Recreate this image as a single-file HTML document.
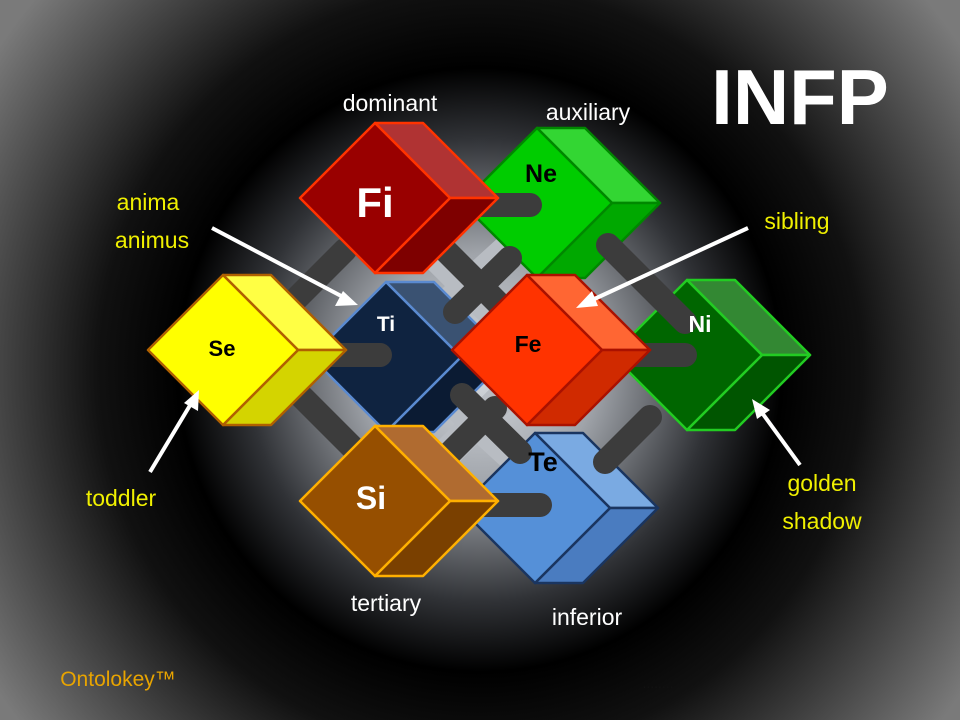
<!DOCTYPE html>
<html><head><meta charset="utf-8"><style>
html,body{margin:0;padding:0}
body{width:960px;height:720px;overflow:hidden;background:#000;font-family:"Liberation Sans",sans-serif}
svg{position:absolute;left:0;top:0}
</style></head><body>
<svg id="s" width="960" height="720" xmlns="http://www.w3.org/2000/svg">
<defs><radialGradient id="bg" cx="480" cy="370" r="580" gradientUnits="userSpaceOnUse">
<stop offset="0" stop-color="#d6dadf"/><stop offset="0.2" stop-color="#a0a4aa"/><stop offset="0.4" stop-color="#303236"/><stop offset="0.52" stop-color="#000"/><stop offset="0.66" stop-color="#111"/><stop offset="1" stop-color="#7a7a7a"/></radialGradient></defs>
<rect width="960" height="720" fill="url(#bg)"/>
<g stroke="#b8bcc2" stroke-width="30" fill="none">
<line x1="420" y1="240" x2="540" y2="360"/><line x1="440" y1="390" x2="560" y2="500"/>
<line x1="430" y1="470" x2="560" y2="340"/><line x1="430" y1="320" x2="540" y2="220"/>
</g>
<g id="back"></g>
<g stroke="#3c3c3c" stroke-width="24" stroke-linecap="round" fill="none">
<line x1="295" y1="300" x2="345" y2="250"/>
<line x1="455" y1="312" x2="510" y2="258"/>
<line x1="440" y1="245" x2="515" y2="320"/>
<line x1="608" y1="245" x2="685" y2="322"/>
<line x1="290" y1="385" x2="360" y2="455"/>
<line x1="462" y1="395" x2="520" y2="452"/>
<line x1="435" y1="468" x2="495" y2="408"/>
<line x1="605" y1="462" x2="650" y2="417"/>
<line x1="450" y1="205" x2="530" y2="205"/>
<line x1="300" y1="355" x2="380" y2="355"/>
<line x1="600" y1="355" x2="685" y2="355"/>
<line x1="450" y1="505" x2="540" y2="505"/>
</g>
<g id="front"></g>
<g font-family="Liberation Sans,sans-serif" font-weight="bold" text-anchor="middle">
<text x="375" y="217" font-size="42" fill="#fff">Fi</text>
<text x="541" y="182" font-size="25" fill="#000">Ne</text>
<text x="222" y="356" font-size="22" fill="#000">Se</text>
<text x="386" y="331" font-size="21" fill="#fff">Ti</text>
<text x="528" y="352" font-size="23" fill="#000">Fe</text>
<text x="700" y="332" font-size="23" fill="#fff">Ni</text>
<text x="371" y="509" font-size="32" fill="#fff">Si</text>
<text x="543" y="471" font-size="27" fill="#000">Te</text>
<text x="800" y="124" font-size="78" fill="#fff">INFP</text>
</g>
<g font-family="Liberation Sans,sans-serif" font-size="23" text-anchor="middle">
<text x="390" y="111" fill="#fff">dominant</text>
<text x="588" y="120" fill="#fff">auxiliary</text>
<text x="386" y="611" fill="#fff">tertiary</text>
<text x="587" y="625" fill="#fff">inferior</text>
<g fill="#f0f000">
<text x="148" y="210">anima</text><text x="152" y="248">animus</text>
<text x="797" y="229">sibling</text>
<text x="121" y="506">toddler</text>
<text x="822" y="491">golden</text><text x="822" y="529">shadow</text>
</g>
<text x="118" y="686" fill="#e8a400" font-size="21">Ontolokey™</text>
<text x="658" y="688" fill="#111" font-size="14">........</text>
</g>
<g stroke="#fff" stroke-width="4" fill="#fff">
<line x1="212" y1="228" x2="345" y2="298"/><polygon points="358,305 335,306 343,291" stroke="none"/>
<line x1="748" y1="228" x2="590" y2="301"/><polygon points="576,308 592,291 598,306" stroke="none"/>
<line x1="150" y1="472" x2="192" y2="402"/><polygon points="199,390 198,411 184,403" stroke="none"/>
<line x1="800" y1="465" x2="760" y2="410"/><polygon points="752,399 770,410 757,419" stroke="none"/>
</g>
</svg>
<script>
function cube(g,cx,cy,f,t,s,st){
 var d=48,h=75,ns="http://www.w3.org/2000/svg";
 function p(pts,c){var e=document.createElementNS(ns,"polygon");e.setAttribute("points",pts.map(function(a){return a.join(",")}).join(" "));e.setAttribute("fill",c);e.setAttribute("stroke",st);e.setAttribute("stroke-width","2.5");e.setAttribute("stroke-linejoin","round");g.appendChild(e);}
 p([[cx,cy-h],[cx+d,cy-h],[cx+h+d,cy],[cx+h,cy]],t);
 p([[cx+h,cy],[cx+h+d,cy],[cx+d,cy+h],[cx,cy+h]],s);
 p([[cx-h,cy],[cx,cy-h],[cx+h,cy],[cx,cy+h]],f);
}
var B=document.getElementById("back"),F=document.getElementById("front");
cube(B,386,357,"#0f2340","#3a5272","#0b1b33","#5a8ad0");
cube(B,537,203,"#00cc00","#33d633","#00a800","#008800");
cube(B,687,355,"#006600","#338833","#005500","#22cc22");
cube(B,535,508,"#5590d8","#7aaae2","#4a7cc0","#1a3560");
cube(F,375,198,"#990000","#b03333","#7e0000","#ff3300");
cube(F,223,350,"#ffff00","#ffff44","#d4d400","#b06000");
cube(F,527,350,"#ff3300","#ff6633","#d02a00","#aa1100");
cube(F,375,501,"#964f00","#b06b30","#7a4000","#ffb000");
</script>
</body></html>
